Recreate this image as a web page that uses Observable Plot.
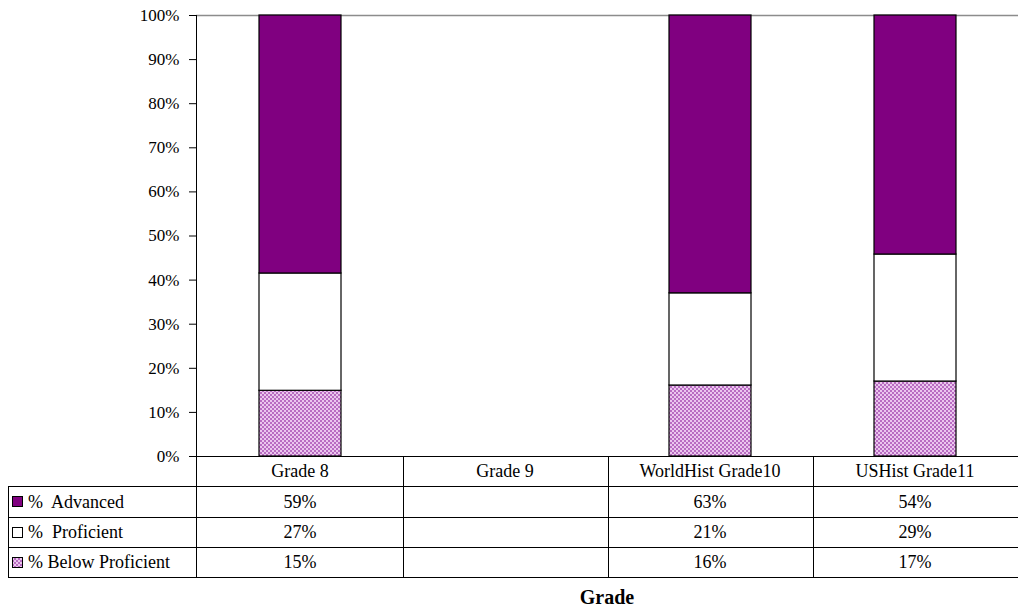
<!DOCTYPE html>
<html><head><meta charset="utf-8">
<script src="https://cdn.jsdelivr.net/npm/d3@7"></script>
<script src="https://cdn.jsdelivr.net/npm/@observablehq/plot@0.6"></script>
<style>body{margin:0;background:#fff}</style>
</head><body><div id="chart"></div>
<script>
// ---- data ----
const categories = ["Grade 8", "Grade 9", "WorldHist Grade10", "USHist Grade11"];
const seriesNames = ["% Below Proficient", "%  Proficient", "%  Advanced"]; // stack order (bottom to top)
const legendOrder = ["%  Advanced", "%  Proficient", "% Below Proficient"]; // table row order
const belowProficient = [14.9, null, 16.1, 17.0];
const proficient = [26.6, null, 20.9, 28.8];
const advanced = [58.5, null, 63.0, 54.2];
const yTicks = [0, 10, 20, 30, 40, 50, 60, 70, 80, 90, 100];
const xTitle = "Grade";

// ---- build ----
const seriesValues = {"% Below Proficient": belowProficient, "%  Proficient": proficient, "%  Advanced": advanced};
const seriesFill = {"% Below Proficient": "url(#belowPattern)", "%  Proficient": "white", "%  Advanced": "#800080"};
const rows = [];
seriesNames.forEach(s => categories.forEach((c, i) => {
  const v = seriesValues[s][i];
  if (v != null) rows.push({category: c, series: s, value: v});
}));

const FONT = "'Liberation Serif', 'Times New Roman', serif";
const plot = Plot.plot({
  width: 1018, height: 607,
  marginLeft: 196, marginRight: 0, marginTop: 15, marginBottom: 151,
  style: {fontFamily: FONT, fontSize: "17px", background: "white", color: "black", overflow: "visible"},
  x: {domain: categories, paddingInner: 0.6, paddingOuter: 0.3, axis: null},
  y: {domain: [0, 100], axis: null},
  color: {type: "identity"},
  marks: [
    Plot.ruleY([100], {stroke: "#8c8c8c", strokeWidth: 1.5}),
    Plot.barY(rows, Plot.stackY({x: "category", y: "value", z: "series", fill: d => seriesFill[d.series], stroke: "black", strokeWidth: 1.2})),
    Plot.axisY({ticks: yTicks, tickFormat: d => d + "%", tickSize: 7, tickPadding: 10, label: null, fontSize: 17, stroke: "black"})
  ]
});
document.getElementById("chart").appendChild(plot);

// ---- pattern, axis line, data table ----
const svg = d3.select(plot);
const defs = svg.insert("defs", ":first-child");
const pat = defs.append("pattern").attr("id", "belowPattern").attr("patternUnits", "userSpaceOnUse")
  .attr("width", 4).attr("height", 4);
pat.append("rect").attr("width", 4).attr("height", 4).attr("fill", "#ebc6ee");
pat.append("rect").attr("x", 0).attr("y", 0).attr("width", 2).attr("height", 2).attr("fill", "#b86cc2");
pat.append("rect").attr("x", 2).attr("y", 2).attr("width", 2).attr("height", 2).attr("fill", "#b86cc2");

const xs = plot.scale("x"), ys = plot.scale("y");
const step = xs.step, bw = xs.bandwidth;
const left = xs.range[0], right = xs.range[1];
const yBase = ys.apply(0), yTop = ys.apply(100);
const tableBottom = 577, legendLeft = 8;
const rowNames = ["header", ...legendOrder];
const rowScale = d3.scaleBand().domain(rowNames).range([yBase, tableBottom]);
const crisp = v => Math.round(v) + 0.5;

const g = svg.append("g").attr("font-family", FONT).attr("font-size", 18).attr("text-anchor", "start");
function line(x1, y1, x2, y2) {
  g.append("line").attr("x1", x1).attr("y1", y1).attr("x2", x2).attr("y2", y2)
    .attr("stroke", "black").attr("stroke-width", 1);
}
// axis line, continuing down through table
line(crisp(left), yTop, crisp(left), tableBottom);
// horizontal table lines
line(left, crisp(yBase), right, crisp(yBase));
legendOrder.forEach(r => line(legendLeft, crisp(rowScale(r)), right, crisp(rowScale(r))));
line(legendLeft, crisp(tableBottom), right, crisp(tableBottom));
// vertical lines
line(crisp(legendLeft), rowScale(legendOrder[0]), crisp(legendLeft), tableBottom);
categories.slice(0, -1).forEach(c => {
  const xb = xs.apply(c) + bw / 2 + step / 2;
  line(crisp(xb), yBase, crisp(xb), tableBottom);
});
// header texts
categories.forEach(c => {
  g.append("text").attr("x", xs.apply(c) + bw / 2).attr("y", rowScale("header") + rowScale.bandwidth() / 2)
    .attr("text-anchor", "middle").attr("dy", "0.35em").text(c);
});
// rows
legendOrder.forEach(s => {
  const cy = rowScale(s) + rowScale.bandwidth() / 2;
  g.append("rect").attr("x", 12.5).attr("y", Math.round(cy - 5) + 0.5).attr("width", 10).attr("height", 10)
    .attr("fill", seriesFill[s]).attr("stroke", "black").attr("stroke-width", 1);
  g.append("text").attr("x", 28).attr("y", cy).attr("dy", "0.35em").attr("text-anchor", "start")
    .style("white-space", "pre").text(s);
  categories.forEach((c, i) => {
    const v = seriesValues[s][i];
    if (v == null) return;
    g.append("text").attr("x", xs.apply(c) + bw / 2).attr("y", cy).attr("dy", "0.35em")
      .attr("text-anchor", "middle").text(Math.round(v) + "%");
  });
});
// title
g.append("text").attr("x", (left + right) / 2).attr("y", 597).attr("dy", "0.35em")
  .attr("text-anchor", "middle").attr("font-weight", "bold").attr("font-size", 20).text(xTitle);
</script>
</body></html>
